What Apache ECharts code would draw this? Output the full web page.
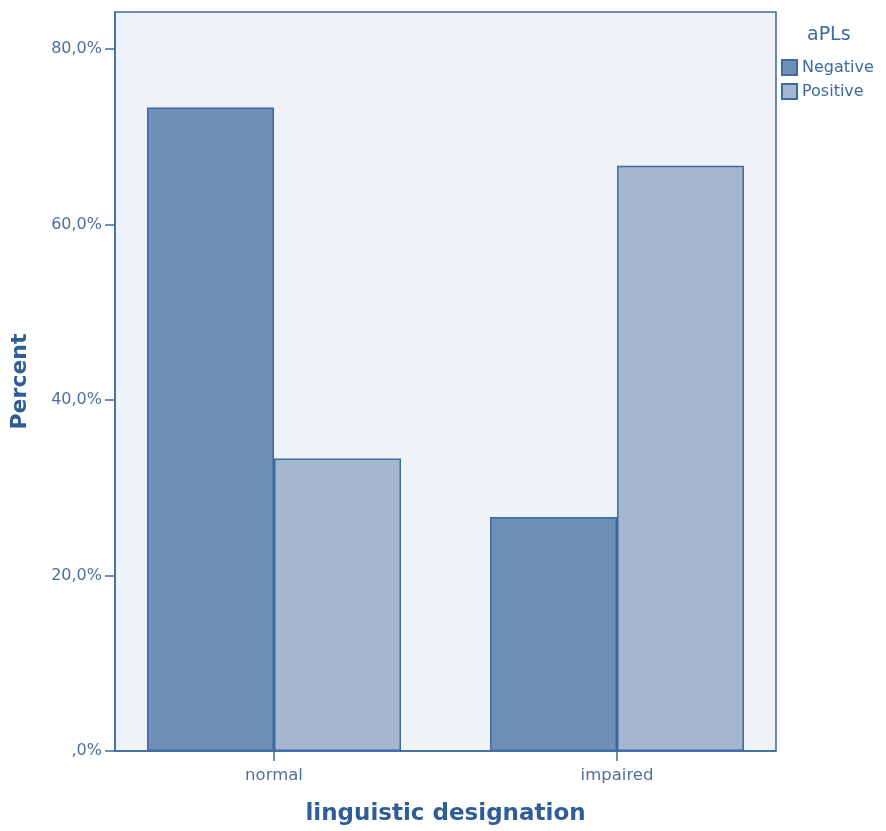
<!DOCTYPE html>
<html><head><meta charset="utf-8">
<script src="https://cdn.jsdelivr.net/npm/echarts@6/dist/echarts.min.js"></script>
<style>html,body{margin:0;padding:0;background:#fff}#c{width:886px;height:831px}</style>
</head><body><div id="c"></div>
<script>
const categories = ['normal', 'impaired'];
const seriesNames = ['Negative', 'Positive'];
const negativeValues = [73.33, 26.67];
const positiveValues = [33.33, 66.67];
const yTicks = [0, 20, 40, 60, 80];

const font = 'DejaVu Sans';
const chart = echarts.init(document.getElementById('c'));
const toPts = vals => vals.map((v, i) => [i, v]);
chart.setOption({
  animation: false,
  backgroundColor: '#ffffff',
  title: {
    text: 'aPLs', left: 807, top: 26, padding: 0,
    textStyle: { fontFamily: font, fontSize: 19, fontWeight: 'normal', color: '#3b6aa0' }
  },
  legend: {
    orient: 'vertical', left: 781, top: 59, padding: 0, itemWidth: 15, itemHeight: 15, itemGap: 7,
    icon: 'rect',
    textStyle: { fontFamily: font, fontSize: 16, color: '#3b6aa0', padding: [0, 0, 0, 0] },
    data: seriesNames
  },
  grid: {
    left: 115, top: 12, right: 110, bottom: 79,
    show: true, backgroundColor: '#eff3f8', borderColor: '#3d6aa0', borderWidth: 1.5
  },
  xAxis: {
    type: 'value', min: -0.4636, max: 1.4636,
    name: 'linguistic designation', nameLocation: 'middle', nameGap: 52,
    nameTextStyle: { fontFamily: font, fontSize: 23, fontWeight: 'bold', color: '#2f5d96' },
    splitLine: { show: false },
    axisLine: { show: true, onZero: false, lineStyle: { color: '#3d6aa0', width: 1.5 } },
    axisTick: { show: true, length: 10, customValues: [0, 1], lineStyle: { color: '#3d6aa0', width: 1.5 } },
    axisLabel: {
      customValues: [0, 1], margin: 16,
      formatter: v => categories[Math.round(v)],
      fontFamily: font, fontSize: 16.5, color: '#4f6f9c'
    }
  },
  yAxis: {
    type: 'value', min: 0, max: 84.2,
    name: 'Percent', nameLocation: 'middle', nameGap: 84, nameRotate: 90,
    nameTextStyle: { fontFamily: font, fontSize: 22, fontWeight: 'bold', color: '#2f5d96' },
    splitLine: { show: false },
    axisLine: { show: true, onZero: false, lineStyle: { color: '#3d6aa0', width: 1.5 } },
    axisTick: { show: true, length: 10, customValues: yTicks, lineStyle: { color: '#3d6aa0', width: 1.5 } },
    axisLabel: {
      customValues: yTicks, margin: 13,
      formatter: v => (v === 0 ? ',0%' : v.toFixed(1).replace('.', ',') + '%'),
      fontFamily: font, fontSize: 16, color: '#4f6f9c'
    }
  },
  series: [
    {
      name: 'Negative', type: 'bar', barWidth: 127, barGap: '0%',
      data: toPts(negativeValues),
      itemStyle: { color: '#6e8fb6', borderColor: '#3d6aa0', borderWidth: 1.5 }
    },
    {
      name: 'Positive', type: 'bar', barWidth: 127, barGap: '0%',
      data: toPts(positiveValues),
      itemStyle: { color: '#a4b6d0', borderColor: '#3d6aa0', borderWidth: 1.5 }
    }
  ]
});
</script></body></html>
